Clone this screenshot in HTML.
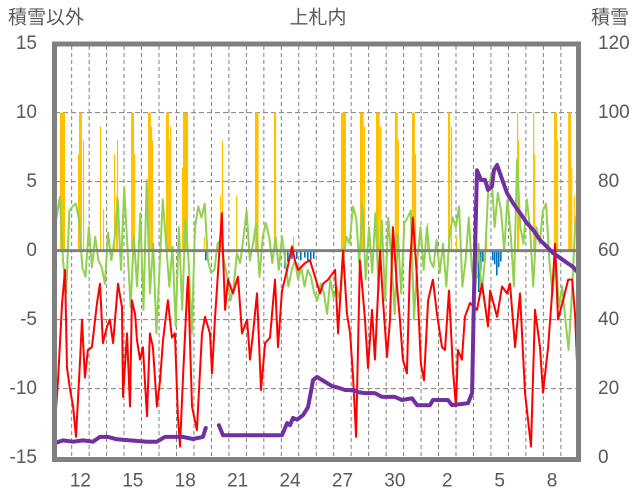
<!DOCTYPE html>
<html><head><meta charset="utf-8">
<style>
html,body{margin:0;padding:0;background:#fff;}
svg{display:block;font-family:"Liberation Sans","Noto Sans CJK JP",sans-serif;}
</style></head>
<body>
<svg id="chart" width="636" height="501" viewBox="0 0 636 501">
<g id="grid"></g>
<g id="bars"></g>
<g id="lines"></g>
<g id="frame"></g>
<g id="labels"></g>
</svg>
<script>
const leftTicks=[15,10,5,0,-5,-10,-15];
const rightTicks=[120,100,80,60,40,20,0];
const dayLabelDays=[12,15,18,21,24,27,30,33,36,39];
const dayLabelText=["12","15","18","21","24","27","30","2","5","8"];
const redDay=[11.0,11.05,11.22,11.45,11.62,11.73,11.9,12.08,12.25,12.48,12.59,12.76,12.93,13.16,13.45,13.62,13.79,14.02,14.19,14.37,14.65,14.88,14.94,15.17,15.34,15.45,15.63,15.74,15.91,16.08,16.31,16.48,16.65,16.88,17.06,17.23,17.51,17.74,17.91,18.08,18.2,18.37,18.6,18.66,18.89,19.17,19.46,19.63,19.92,20.03,20.2,20.6,20.66,20.78,20.95,21.23,21.52,21.75,22.04,22.21,22.38,22.61,22.84,23.07,23.35,23.64,23.81,24.04,24.33,24.61,24.78,24.96,25.36,25.64,25.93,26.22,26.39,26.68,27.08,27.25,27.53,27.76,27.94,28.11,28.28,28.5,28.79,28.96,29.19,29.36,29.65,29.82,30.05,30.22,30.39,30.62,30.79,30.96,31.19,31.36,31.53,31.76,31.99,32.17,32.4,32.68,32.91,33.2,33.37,33.6,33.83,34.0,34.11,34.34,34.51,34.8,35.2,35.49,35.83,35.95,36.35,36.63,36.92,37.09,37.38,37.66,37.95,38.29,38.52,38.81,38.98,39.27,39.5,39.67,39.84,40.13,40.42,40.65,40.82,40.99];
const redTemp=[-7.2,-12.5,-9.4,-3.8,-1.4,-8.5,-10,-11.3,-13.5,-7.9,-5,-9.2,-7.2,-7,-3.8,-2.4,-6.7,-5.5,-5,-6.7,-2.4,-4.1,-10.6,-6,-11.3,-3.6,-4.6,-6.5,-7.9,-7,-12,-6,-7,-11.3,-9.4,-6.5,-3.6,-6.3,-6,-12,-14.2,-9.2,-3.1,-1.9,-11.3,-13,-6,-4.8,-6,-8.9,-5,2.7,-0.2,-4.3,-2.1,-3.1,-1.9,-6,-5,-7.9,-6,-3.1,-10.1,-6.7,-6.3,-2.1,-7,-2.9,-1.4,0.3,-0.7,-1.4,-0.9,-0.7,-1.9,-3.1,-2.4,-2.1,-1.4,-6,0,-4.6,-6,-9.2,-13.5,-0.7,-5,-8.5,-4.3,-7.9,0,-3.6,-7.7,-5,1.7,-2.6,-5,-7.9,-8.9,-1.2,2.4,-1.9,-8.2,-9.4,-3.6,-2.1,-4.6,-7,-7.2,-2.9,-8.7,-11.3,-7.2,-7.9,-4.8,-3.8,-4.3,-2.4,-5.5,-2.9,-4.8,-2.6,-3.1,-2.4,-7,-3.1,-10.3,-14.2,-4.3,-7,-10.3,-7,-3.1,0.5,-5,-3.6,-2.1,-2.1,-4.8,-9.9];
const greenStartDay=10.95;
const greenEndDay=41.0;
const greenVal=[1.7,2.4,3.9,-0.7,-3.1,2.9,3.2,3.4,2.2,-1.2,-1.9,1.7,-1.2,1,-0.7,-1.2,-2.4,1.3,-0.7,0.8,3.7,-1.4,4.6,0.3,-4.1,1,-2.6,2.7,-4.3,5.1,-3.1,0.5,-6,-1.2,3.7,0.5,-2.6,0.3,-5.5,1.7,-4.3,2.2,-0.7,-6,1.7,3.2,2.4,3.4,-0.7,-1.6,-1.4,0.5,0.8,-0.7,-1.9,-3.6,
-2.6,-0.2,-0.9,0.8,2.9,-0.7,0.5,2,-1.9,1,2,1,-0.9,1,-1.4,1,-0.7,-2.6,-1.4,-0.7,-2.1,-1.2,-2.6,-1.4,-1.9,-3.1,-3.6,-2.4,-3.1,-4.6,-2.1,-3.4,-2.6,-3.6,-0.7,1,0.5,3.2,2.4,-0.9,3.4,-2.1,1.7,-1.6,2.7,-2.9,2.2,-3.6,2.4,-0.7,-4.6,1.2,-3.1,2,
2.4,2.9,-5,-0.7,1.7,-1.4,1.7,-0.7,-1.2,0.8,-1.6,0.5,-2.6,1,2.4,1.7,3.2,-2.6,-0.7,2.4,-1.4,-2.9,0.5,-3.1,-0.7,4.2,5.6,1.7,4.2,2.9,0,3.7,1.2,-2.6,6.6,1.7,0.5,3.7,1.7,-2.6,1.7,0.5,2.9,3.4,-0.7,-3.1,-0.7,-4.1,-2.6,-5,-7.2,-3.1,1.7,3.2];
const depthDay=[11.0,11.5,12.08,12.65,13.22,13.62,14.08,14.59,16.31,16.88,17.34,18.03,18.37,18.94,19.51,19.68,null,20.43,20.66,24.04,24.33,24.5,24.67,24.9,25.24,25.53,25.82,26.05,26.33,26.62,26.91,27.25,27.65,28.05,28.39,28.79,29.36,29.76,30.5,30.91,31.48,31.77,32.51,32.68,33.54,33.77,34.69,34.92,35.03,35.2,35.43,35.66,35.83,36.06,36.17,36.35,36.52,36.92,37.26,37.66,38.06,38.41,38.81,39.21,39.55,39.95,40.35,40.69,40.99];
const depthVal=[4.2,5,4.6,5,4.6,6,6,5.3,4.6,4.6,6,6,6,5.4,6,8.6,null,9.4,6.5,6.5,10,9.4,11.5,11,12.3,14.6,22.5,23.4,22.5,21.6,20.7,20.3,19.6,19.6,19,18.7,18.7,17.6,17.6,16.7,17.2,15.2,15.2,16.7,16.7,15.2,15.8,18.7,47.7,83.3,80.5,80.5,77.6,78.6,83.3,84.8,82.4,76.7,73.8,70.9,68,66,63.1,61.1,59.3,57.9,56.5,55.3,53.6];
const snowDay=[11.33,12.36,12.42,12.65,13.62,13.79,14.42,14.54,14.59,15.4,15.57,16.37,16.54,16.6,17.4,17.57,17.63,18.31,18.37,19.57,20.49,20.6,21.41,22.49,23.58,24.67,27.41,28.5,28.73,29.42,29.65,30.5,30.67,31.48,31.65,32.34,33.54,33.71,34.0,35.72,37.49,37.55,38.41,38.47,39.61,39.78,40.42,40.59,40.76];
const snowHours=[7,1,4,1,1,1,1,1,1,4,1,4,1,1,4,1,1,1,7,1,1,1,1,5,3,1,7,5,1,5,2,4,1,4,1,1,3,1,1,1,1,1,1,1,4,1,4,1,1];
const snowVal=[10,7,10,8,9,3,7,4,8,10,7,10,9,8,10,8,9,6,10,1,4,8,4,10,10,1,10,10,9,10,9,10,8,10,7,2,10,9,1,1,10,8,10,7,10,8,10,6,4];
const meltDay=[19.63,24.16,24.33,24.56,24.84,25.07,25.3,25.47,25.64,25.81,35.03,35.14,35.26,35.37,35.49,36.06,36.17,36.29,36.4,36.52];
const meltVal=[-0.7,-1.3,-0.8,-0.6,-0.6,-0.7,-0.5,-0.7,-0.7,-0.6,-1.2,-2,-3,-1.5,-0.8,-0.7,-1,-1.8,-1.2,-0.8];

const NS="http://www.w3.org/2000/svg";
const PX0=54.2, DAYW=17.47, PL=55, PR=578;
function xDay(d){return PX0+(d-11)*DAYW;}
function yL(v){return 250.6-v*13.8;}
function yR(v){return 457.6-v*3.45;}
function mk(tag,attrs,parent){const e=document.createElementNS(NS,tag);for(const k in attrs)e.setAttribute(k,attrs[k]);parent.appendChild(e);return e;}
const grid=document.getElementById('grid'),bars=document.getElementById('bars'),lines=document.getElementById('lines'),frame=document.getElementById('frame'),labels=document.getElementById('labels');
const TXT="#595959";

// horizontal gridlines
leftTicks.forEach(v=>{
  if(v===15||v===-15||v===0)return;
  const l=mk('line',{x1:PL,x2:PR,y1:yL(v),y2:yL(v),stroke:'#808080','stroke-width':1,'stroke-dasharray':'5,3'},grid);
  
  
});
// vertical day gridlines
for(let d=12;d<=40;d++){
  const l=mk('line',{x1:xDay(d),x2:xDay(d),y1:46,y2:457,stroke:'#808080','stroke-width':1,'stroke-dasharray':'4,3'},grid);
  
  
}
// snowfall bars
snowDay.forEach((d,i)=>{
  const x=xDay(d), w=Math.max(1.2,snowHours[i]/24*DAYW);
  const r=mk('rect',{x:x,y:yL(snowVal[i]),width:w,height:yL(0)-yL(snowVal[i]),fill:'#FFC000'},bars);
  
  
});
// melt bars
meltDay.forEach((d,i)=>{
  const x=xDay(d);
  const r=mk('rect',{x:x,y:yL(0),width:1.6,height:yL(meltVal[i])-yL(0),fill:'#0070C0'},bars);
  
  
});
// green series
{
  const n=greenVal.length, step=(greenEndDay-greenStartDay)/(n-1);
  const pts=greenVal.map((v,i)=>Math.max(PL,Math.min(PR,xDay(greenStartDay+i*step))).toFixed(1)+','+yL(v).toFixed(1)).join(' ');
  const p=mk('polyline',{points:pts,fill:'none',stroke:'#92D050','stroke-width':2,'stroke-linejoin':'round'},lines);
  
  
}
// zero line
{
  const z=mk('line',{x1:PL,x2:PR,y1:yL(0),y2:yL(0),stroke:'#808080','stroke-width':3},lines);
  
  
}
// red series
{
  const pts=redDay.map((d,i)=>Math.max(PL,Math.min(PR,xDay(d))).toFixed(1)+','+yL(redTemp[i]).toFixed(1)).join(' ');
  const p=mk('polyline',{points:pts,fill:'none',stroke:'#FF0000','stroke-width':2,'stroke-linejoin':'round'},lines);
  
  
}
// snow depth (purple), with gap
{
  let segs=[[]];
  depthDay.forEach((d,i)=>{ if(d===null){segs.push([]);return;} segs[segs.length-1].push(Math.max(PL,Math.min(PR,xDay(d))).toFixed(1)+','+yR(depthVal[i]).toFixed(1)); });
  segs.forEach(s=>{
    const p=mk('polyline',{points:s.join(' '),fill:'none',stroke:'#7030A0','stroke-width':4,'stroke-linejoin':'round','stroke-linecap':'round'},lines);
    
    
  });
}
// frame
{
  const r=mk('rect',{x:54.5,y:44,width:524,height:415.5,fill:'none',stroke:'#808080','stroke-width':5},frame);
  
  
}
// labels
function txt(s,x,y,anchor,size,name){
  const t=mk('text',{x:x,y:y,'text-anchor':anchor,'font-size':size,fill:TXT,'dominant-baseline':'central'},labels);
  t.textContent=s;
  
  
  return t;
}
leftTicks.forEach(v=>txt(String(v),37,yL(v),'end',19,'left-tick-label'));
rightTicks.forEach(v=>txt(String(v),598,yR(v),'start',19,'right-tick-label'));
dayLabelDays.forEach((d,i)=>txt(dayLabelText[i],xDay(d+0.5),481,'middle',19,'x-tick-label'));
txt('積雪以外',46,18,'middle',19,'left-axis-title');
txt('上札内',318,18,'middle',19,'chart-title');
txt('積雪',610,18,'middle',19,'right-axis-title');
</script>
</body></html>
